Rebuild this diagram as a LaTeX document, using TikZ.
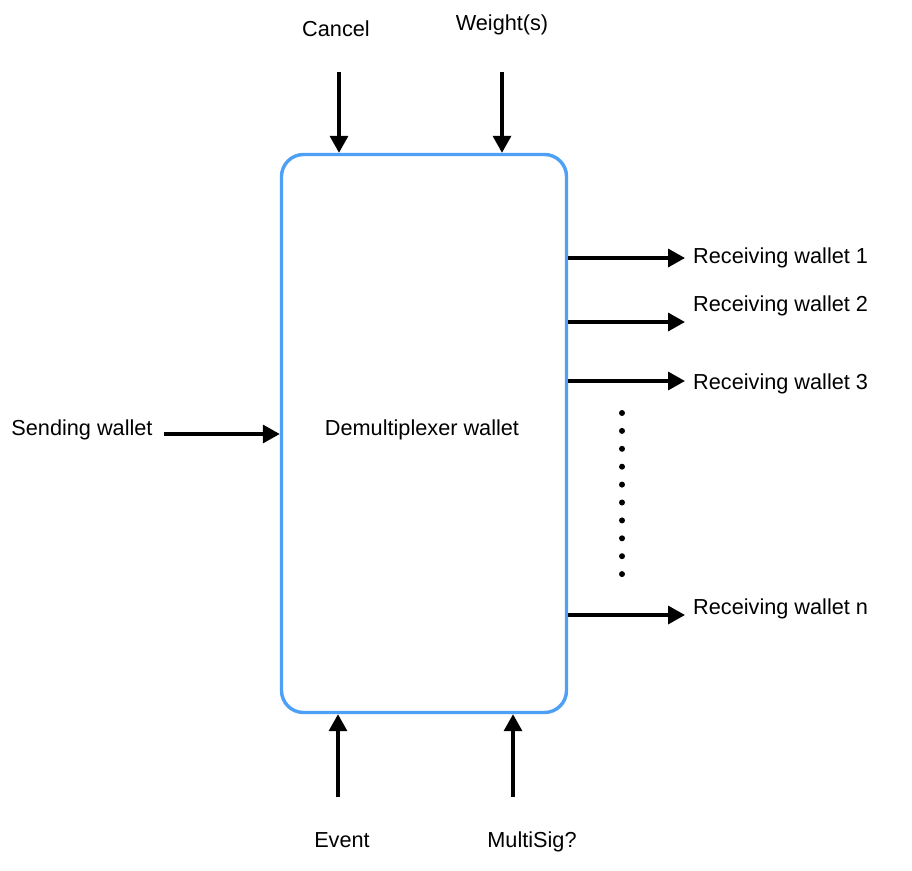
\documentclass[tikz,border=0pt]{standalone}
\usepackage{fontspec}
\setmainfont{Liberation Sans}
\usetikzlibrary{arrows.meta}
\definecolor{boxblue}{RGB}{77,160,245}
\begin{document}
\begin{tikzpicture}[x=1pt,y=-1pt,
  lbl/.style={font=\fontsize{21.7}{26}\selectfont, inner sep=0pt},
  flow/.style={line width=3.4pt, -{Triangle[length=17pt,width=18pt]}},
  mainbox/.style={draw=boxblue, line width=3.4pt, rounded corners=22pt,
    minimum width=285pt, minimum height=558pt, inner sep=0pt},
  dotmark/.style={fill=black, circle, inner sep=0pt, minimum size=6pt}]
\useasboundingbox (0,0) rectangle (912,870);

\node[mainbox] (demux) at (424,433.5) {};
\node[lbl, anchor=base] (demuxlbl) at (422,435.5) {Demultiplexer wallet};

% top inputs
\node[lbl, anchor=base] (cancel) at (336,36.5) {Cancel};
\node[lbl, anchor=base] (weights) at (502,30.5) {Weight(s)};
\coordinate (cancelS) at (339,72);
\coordinate (weightsS) at (502,72);
\draw[flow] (cancelS) -- (cancelS |- demux.north);
\draw[flow] (weightsS) -- (weightsS |- demux.north);

% left input
\node[lbl, anchor=base] (send) at (82,435.5) {Sending wallet};
\coordinate (sendS) at (164,434);
\draw[flow] (sendS) -- (sendS -| demux.west);

% bottom inputs
\node[lbl, anchor=base] (event) at (342,847.5) {Event};
\node[lbl, anchor=base] (multisig) at (532,847.5) {MultiSig?};
\coordinate (eventS) at (338,797);
\coordinate (multisigS) at (513,797);
\draw[flow] (eventS) -- (eventS |- demux.south);
\draw[flow] (multisigS) -- (multisigS |- demux.south);

% outputs
\node[lbl, anchor=base west] (rw1) at (693,263.5) {Receiving wallet 1};
\node[lbl, anchor=base west] (rw2) at (693,311.5) {Receiving wallet 2};
\node[lbl, anchor=base west] (rw3) at (693,389.5) {Receiving wallet 3};
\node[lbl, anchor=base west] (rwn) at (693,614.5) {Receiving wallet n};
\coordinate (rw1E) at (685,258);
\coordinate (rw2E) at (685,322);
\coordinate (rw3E) at (685,381);
\coordinate (rwnE) at (685,615);
\draw[flow] (rw1E -| demux.east) -- (rw1E);
\draw[flow] (rw2E -| demux.east) -- (rw2E);
\draw[flow] (rw3E -| demux.east) -- (rw3E);
\draw[flow] (rwnE -| demux.east) -- (rwnE);

% vertical ellipsis
\foreach \i in {0,...,9} {
  \node[dotmark] (dot\i) at (622,{413+17.9*\i}) {};
}
\end{tikzpicture}
\end{document}
